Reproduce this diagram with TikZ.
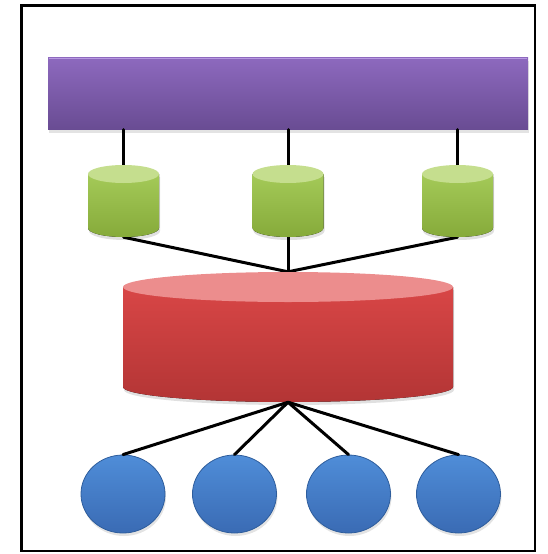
\documentclass[tikz,border=0pt]{standalone}
\usepackage{tikz}
\usetikzlibrary{shapes.geometric,shadows}
\definecolor{busA}{HTML}{8D69BE}
\definecolor{busB}{HTML}{694C93}
\definecolor{busHi}{HTML}{B898E2}
\definecolor{grnA}{HTML}{A4CA58}
\definecolor{grnB}{HTML}{86AA3A}
\definecolor{grnTop}{HTML}{C5DE8E}
\definecolor{redA}{HTML}{D84646}
\definecolor{redB}{HTML}{B33535}
\definecolor{redTop}{HTML}{EC8D8D}
\definecolor{bluA}{HTML}{4F8DD8}
\definecolor{bluB}{HTML}{3A6BB4}
\definecolor{bluLine}{HTML}{2E5D9C}
\tikzset{
  box/.style={draw=black, line width=2.8pt},
  soft/.style={drop shadow={opacity=0.22, shadow xshift=1pt, shadow yshift=-3pt}},
  bus/.style={rectangle, minimum width=480, minimum height=72, inner sep=0pt,
    top color=busA, bottom color=busB, soft},
  drum/.style={rectangle, minimum width=71, minimum height=72, inner sep=0pt},
  core/.style={rectangle, minimum width=330, minimum height=130, inner sep=0pt},
  client/.style={ellipse, minimum width=84, minimum height=78, inner sep=0pt,
    draw=bluLine, line width=0.8pt, top color=bluA, bottom color=bluB, soft},
  wire/.style={draw=black, line width=3pt, line cap=round},
}

\begin{document}
\begin{tikzpicture}[x=1pt,y=1pt]
  \useasboundingbox (0,0) rectangle (547,-554);
  \draw[box] (21.5,-5.5) rectangle (535,-551);

  % top bar
  \node[bus] (bus) at (288,-93.5) {};
  \draw[busHi, line width=1.6pt] ([shift={(1,-1)}]bus.north west) -- ([shift={(-1,-1)}]bus.north east);

  % storage drums under the bar
  \foreach \i/\x in {1/123.5,2/288,3/457.5}{
    \node[drum] (d\i) at (\x,-201) {};
    \draw[wire] (d\i.north) -- (d\i.north |- bus.south);
  }
  \node[core] (core) at (288,-337) {};
  \foreach \i in {1,2,3}
    \draw[wire] (d\i.south) -- (core.north);
  \foreach \i/\x in {1/123.5,2/288,3/457.5}{
    \fill[black, opacity=0.12] (\x-34.5,-177) -- (\x-34.5,-231) arc[start angle=180,end angle=360,x radius=35.5,y radius=9] -- (\x+36.5,-177) -- cycle;
    \fill[top color=grnA, bottom color=grnB] (\x-35.5,-174) -- (\x-35.5,-228) arc[start angle=180,end angle=360,x radius=35.5,y radius=9] -- (\x+35.5,-174) -- cycle;
    \fill[grnTop] (\x,-174) ellipse[x radius=35.5, y radius=9];
  }

  % main store
  \fill[black, opacity=0.12] (124,-290) -- (124,-390) arc[start angle=180,end angle=360,x radius=165,y radius=15] -- (454,-290) -- cycle;
  \fill[top color=redA, bottom color=redB] (123,-287) -- (123,-387) arc[start angle=180,end angle=360,x radius=165,y radius=15] -- (453,-287) -- cycle;
  \fill[redTop] (288,-287) ellipse[x radius=165, y radius=15];

  % clients
  \foreach \i/\x in {1/123,2/234.5,3/348.5,4/458.5}{
    \node[client] (c\i) at (\x,-494) {};
    \draw[wire] (core.south) -- (c\i.north);
  }
\end{tikzpicture}
\end{document}
